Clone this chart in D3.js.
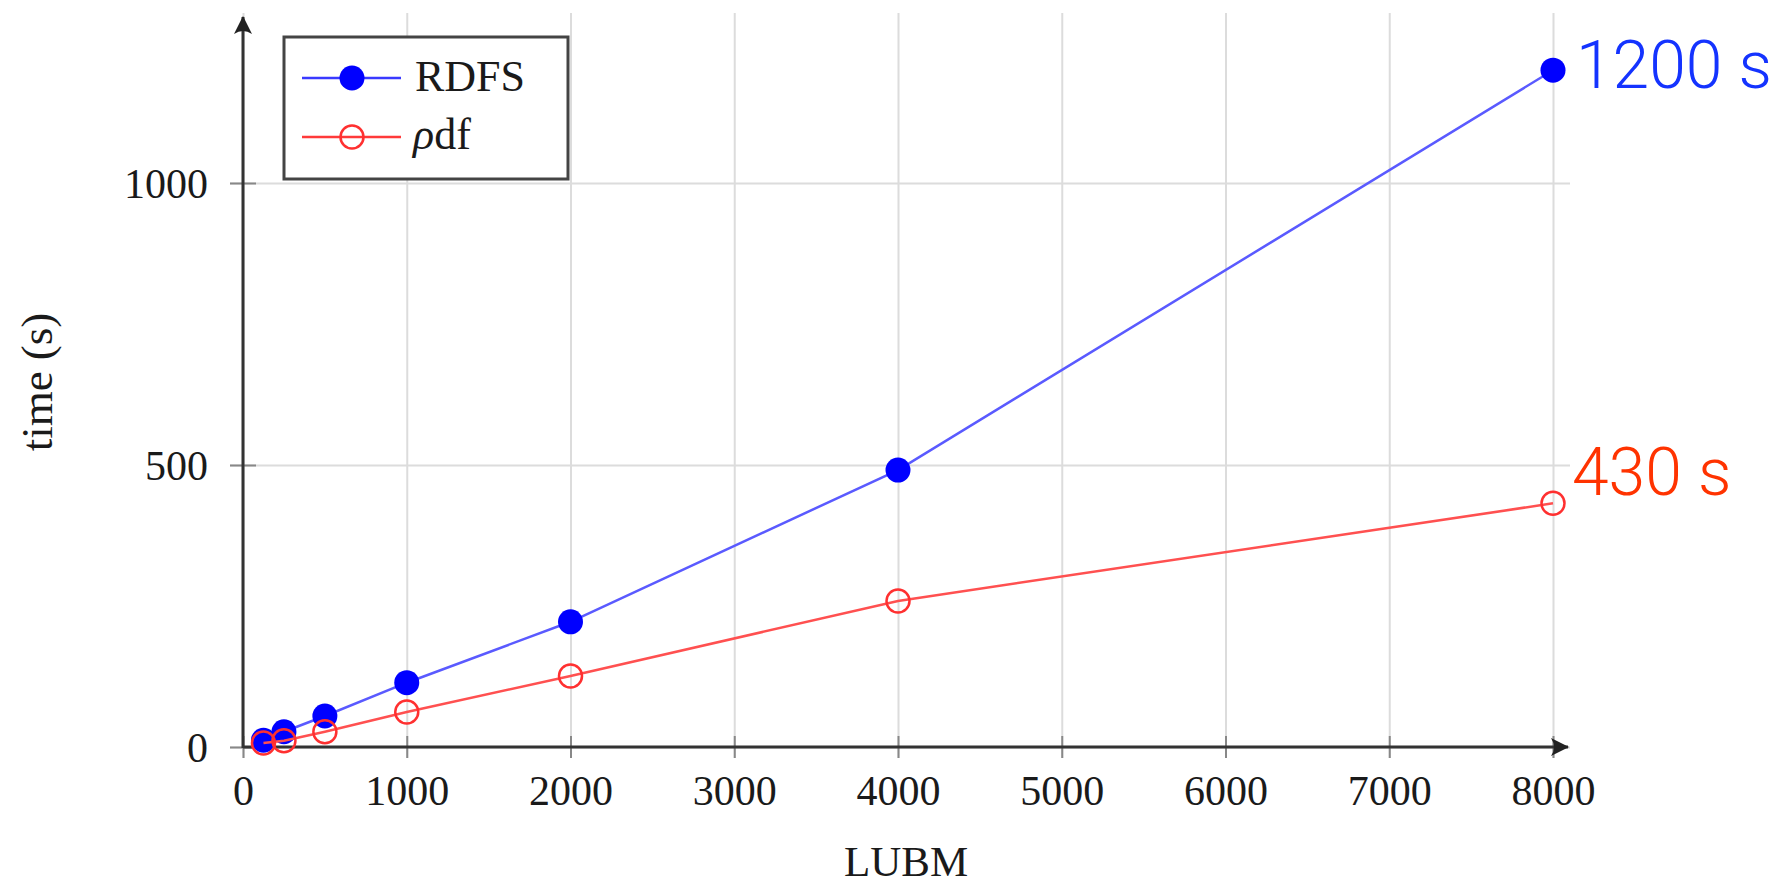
<!DOCTYPE html>
<html>
<head>
<meta charset="utf-8">
<script src="https://cdn.jsdelivr.net/npm/d3@7"></script>
<style>
  body { margin: 0; background: #fff; }
  svg { display: block; }
</style>
</head>
<body>
<div id="chart"></div>
<script>
// data
const lubm = [125, 250, 500, 1000, 2000, 4000, 8000];
const rdfsTime = [12, 27, 55, 114, 222, 491, 1200];
const rhodfTime = [7, 11, 27, 62, 126, 259, 432];
const xTicks = [0, 1000, 2000, 3000, 4000, 5000, 6000, 7000, 8000];
const yTicks = [0, 500, 1000];
const seriesNames = ['RDFS', 'ρdf'];
const endLabels = ['1200 s', '430 s'];

const width = 1782;
const height = 886;
const serif = '"Liberation Serif", "DejaVu Serif", serif';

const svg = d3.select('#chart')
  .append('svg')
  .attr('width', width)
  .attr('height', height);

const x = d3.scaleLinear().domain([0, 8000]).range([243, 1553]);
const y = d3.scaleLinear().domain([0, 1000]).range([747, 183]);

// arrow head for axes
svg.append('defs').append('marker')
  .attr('id', 'arrow')
  .attr('markerUnits', 'userSpaceOnUse')
  .attr('viewBox', '-20 -11 22 22')
  .attr('markerWidth', 22)
  .attr('markerHeight', 22)
  .attr('refX', 0)
  .attr('refY', 0)
  .attr('orient', 'auto')
  .append('path')
  .attr('d', 'M1,0 L-17,-9 Q-11,0 -17,9 Z')
  .attr('fill', '#222');

// grid
const gridColor = '#dcdcdc';
svg.append('g')
  .attr('transform', 'translate(0,758)')
  .call(d3.axisBottom(x).tickValues(xTicks).tickSize(-745).tickFormat(''))
  .call(g => g.select('.domain').remove())
  .call(g => g.selectAll('.tick line').attr('stroke', gridColor).attr('stroke-width', 2));

svg.append('g')
  .attr('transform', 'translate(230,0)')
  .call(d3.axisLeft(y).tickValues(yTicks).tickSize(-1340).tickFormat(''))
  .call(g => g.select('.domain').remove())
  .call(g => g.selectAll('.tick line').attr('stroke', gridColor).attr('stroke-width', 2));

// ticks + labels
const xAxis = svg.append('g')
  .attr('transform', `translate(0,${y(0)})`)
  .call(d3.axisBottom(x).tickValues(xTicks).tickSize(11).tickFormat(d3.format('d')))
  .call(g => g.select('.domain').remove());
xAxis.selectAll('.tick line').attr('y1', -11).attr('stroke', '#888').attr('stroke-width', 2);
xAxis.selectAll('.tick text')
  .attr('y', 58).attr('dy', 0)
  .attr('font-family', serif).attr('font-size', 42).attr('fill', '#1a1a1a');

const yAxis = svg.append('g')
  .attr('transform', `translate(${x(0)},0)`)
  .call(d3.axisLeft(y).tickValues(yTicks).tickSize(13).tickFormat(d3.format('d')))
  .call(g => g.select('.domain').remove());
yAxis.selectAll('.tick line').attr('x2', 13).attr('x1', -13).attr('stroke', '#888').attr('stroke-width', 2);
yAxis.selectAll('.tick text')
  .attr('x', -35).attr('dy', '0.34em')
  .attr('font-family', serif).attr('font-size', 42).attr('fill', '#1a1a1a');

// axis lines with arrows
svg.append('line')
  .attr('x1', x(0)).attr('y1', y(0)).attr('x2', 1568).attr('y2', y(0))
  .attr('stroke', '#333').attr('stroke-width', 3)
  .attr('marker-end', 'url(#arrow)');
svg.append('line')
  .attr('x1', x(0)).attr('y1', y(0) + 1).attr('x2', x(0)).attr('y2', 17)
  .attr('stroke', '#333').attr('stroke-width', 3)
  .attr('marker-end', 'url(#arrow)');

// axis titles
svg.append('text')
  .attr('x', 906).attr('y', 876)
  .attr('text-anchor', 'middle')
  .attr('font-family', serif).attr('font-size', 43).attr('fill', '#1a1a1a')
  .text('LUBM');
svg.append('text')
  .attr('transform', 'translate(52,382) rotate(-90)')
  .attr('text-anchor', 'middle')
  .attr('font-family', serif).attr('font-size', 45).attr('fill', '#1a1a1a')
  .text('time (s)');

// series
const line = d3.line().x(d => x(d[0])).y(d => y(d[1]));
const rdfs = lubm.map((v, i) => [v, rdfsTime[i]]);
const rhodf = lubm.map((v, i) => [v, rhodfTime[i]]);

svg.append('path').datum(rdfs)
  .attr('d', line).attr('fill', 'none')
  .attr('stroke', '#5a5aff').attr('stroke-width', 2.5);
svg.append('g').selectAll('circle').data(rdfs).join('circle')
  .attr('cx', d => x(d[0])).attr('cy', d => y(d[1])).attr('r', 12.5)
  .attr('fill', '#0000ff');

svg.append('path').datum(rhodf)
  .attr('d', line).attr('fill', 'none')
  .attr('stroke', '#ff5050').attr('stroke-width', 2.5);
svg.append('g').selectAll('circle').data(rhodf).join('circle')
  .attr('cx', d => x(d[0])).attr('cy', d => y(d[1])).attr('r', 11.5)
  .attr('fill', 'none').attr('stroke', '#ff3030').attr('stroke-width', 2.5);

// end annotations
const annot = '"Roboto", "Helvetica Neue", Arial, sans-serif';
svg.append('text')
  .attr('x', 1576).attr('y', 88)
  .attr('font-family', annot).attr('font-weight', 300).attr('font-size', 66)
  .attr('fill', '#1433ff')
  .text(endLabels[0]);
svg.append('text')
  .attr('x', 1572).attr('y', 495)
  .attr('font-family', annot).attr('font-weight', 300).attr('font-size', 66)
  .attr('fill', '#ff3300')
  .text(endLabels[1]);

// legend
const legend = svg.append('g');
legend.append('rect')
  .attr('x', 284).attr('y', 37).attr('width', 284).attr('height', 142)
  .attr('fill', '#fff').attr('stroke', '#444').attr('stroke-width', 3);

const rows = [
  { name: seriesNames[0], ly: 78, line: '#3a3aff', fill: '#0000ff', stroke: 'none' },
  { name: seriesNames[1], ly: 137, line: '#ff3a3a', fill: 'none', stroke: '#ff3030' }
];
rows.forEach(r => {
  legend.append('line')
    .attr('x1', 302).attr('x2', 401).attr('y1', r.ly).attr('y2', r.ly)
    .attr('stroke', r.line).attr('stroke-width', 2.5);
  legend.append('circle')
    .attr('cx', 352).attr('cy', r.ly).attr('r', r.stroke === 'none' ? 12.5 : 11.5)
    .attr('fill', r.fill).attr('stroke', r.stroke).attr('stroke-width', 2.5);
});
legend.append('text')
  .attr('x', 415).attr('y', 91)
  .attr('font-family', serif).attr('font-size', 44).attr('fill', '#1a1a1a')
  .text(rows[0].name);
legend.append('text')
  .attr('x', 413).attr('y', 149)
  .attr('font-family', serif).attr('font-size', 44).attr('fill', '#1a1a1a')
  .call(t => t.append('tspan').attr('font-style', 'italic').text('ρ'))
  .call(t => t.append('tspan').text('df'));
</script>
</body>
</html>
